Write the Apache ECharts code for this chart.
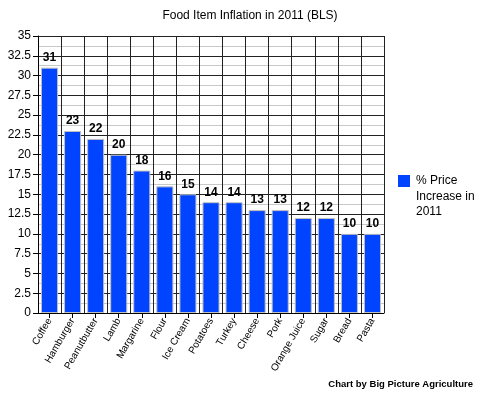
<!DOCTYPE html>
<html><head><meta charset="utf-8">
<script src="https://cdn.jsdelivr.net/npm/echarts@6/dist/echarts.min.js"></script>
<style>html,body{margin:0;padding:0;background:#fff}#c{width:480px;height:394px}</style>
</head><body><div id="c"></div>
<script>
const categories = ['Coffee','Hamburger','Peanutbutter','Lamb','Margarine','Flour','Ice Cream','Potatoes','Turkey','Cheese','Pork','Orange Juice','Sugar','Bread','Pasta'];
const values = [31,23,22,20,18,16,15,14,14,13,13,12,12,10,10];
const seriesName = '% Price\nIncrease in\n2011';
const barColor = '#0044ff';
const chart = echarts.init(document.getElementById('c'));
chart.setOption({
  animation:false,
  title:{text:'Food Item Inflation in 2011 (BLS)',left:245,textAlign:'center',top:5,textStyle:{fontFamily:'Liberation Sans',fontSize:12,fontWeight:'normal',color:'#000'}},
  graphic:[
    {type:'text',right:7,top:379,style:{text:'Chart by Big Picture Agriculture',font:'bold 9.5px "Liberation Sans"',fill:'#000'}},
    {type:'rect',left:398,top:175,shape:{width:12,height:12},style:{fill:barColor}},
    {type:'text',left:416,top:173,style:{text:seriesName,font:'12px "Liberation Sans"',fill:'#000',lineHeight:15.5}}
  ],
  legend:{show:false,data:[seriesName]},
  grid:{left:38,right:96,top:36,bottom:81,containLabel:false},
  xAxis:{type:'category',data:categories,boundaryGap:true,
    axisLine:{lineStyle:{color:'#000',width:1}},
    axisTick:{show:true,alignWithLabel:true,length:5,lineStyle:{color:'#000'}},
    axisLabel:{rotate:60,fontFamily:'Liberation Sans',fontSize:10,color:'#000',margin:6,interval:0},
    splitLine:{show:true,lineStyle:{color:'#222',width:1}}},
  yAxis:{type:'value',min:0,max:35,interval:2.5,
    axisLine:{show:true,lineStyle:{color:'#000'}},
    axisTick:{show:true,length:5,lineStyle:{color:'#000'}},
    axisLabel:{fontFamily:'Liberation Sans',fontSize:12,color:'#000',margin:7},
    splitLine:{show:true,lineStyle:{color:'#222',width:1}},
    minorTick:{show:false,splitNumber:2},
    minorSplitLine:{show:true,lineStyle:{color:'#c8c8c8',width:1}}},
  series:[{name:seriesName,type:'bar',data:values,barCategoryGap:'26%',
    itemStyle:{color:barColor,borderColor:'#c0c0c0',borderWidth:1},
    label:{show:true,position:'top',fontFamily:'Liberation Sans',fontSize:12,fontWeight:'bold',color:'#000',distance:4}}]
});
</script></body></html>
